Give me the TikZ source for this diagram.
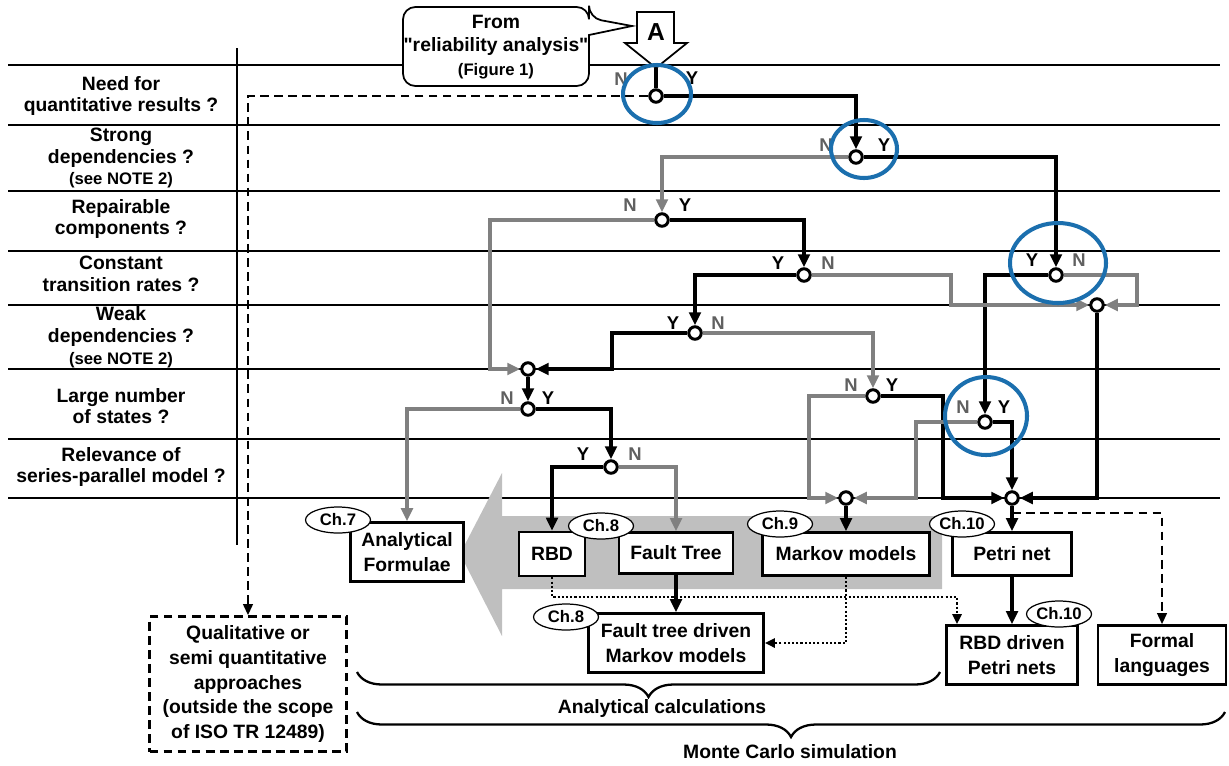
\documentclass[tikz,border=0pt]{standalone}
\usepackage{fontspec}
\setmainfont{Liberation Sans}[Ligatures=TeXOff]
\usetikzlibrary{arrows.meta, shapes.geometric, decorations.pathreplacing}
\definecolor{lgray}{HTML}{808080}
\definecolor{ngray}{HTML}{606060}
\definecolor{agray}{HTML}{BFBFBF}
\definecolor{hintblue}{HTML}{1B6FAE}
\tikzset{
  rowtxt/.style  = {align=center, font=\fontsize{11}{12.4}\selectfont\bfseries},
  model/.style   = {rectangle, draw, line width=1.5pt, fill=white, align=center,
                    inner sep=1pt, font=\fontsize{11}{13.8}\selectfont\bfseries},
  qbox/.style    = {model, dash pattern=on 5pt off 3pt},
  chap/.style    = {ellipse, draw, line width=0.7pt, fill=white, minimum width=1.3cm,
                    minimum height=0.52cm, inner sep=0pt, font=\fontsize{9.5}{10}\selectfont\bfseries},
  dec/.style     = {circle, draw, line width=1.7pt, fill=white, minimum size=0.25cm, inner sep=0pt},
  ylab/.style    = {font=\fontsize{10.5}{11}\selectfont\bfseries},
  nlab/.style    = {ylab, text=ngray},
  yln/.style     = {line width=2pt},
  yar/.style     = {yln, -{Triangle[length=2.6mm,width=2.3mm]}},
  nar/.style     = {yar, draw=lgray},
  dashar/.style  = {line width=1.3pt, dash pattern=on 5pt off 3pt, -{Triangle[length=2.2mm,width=1.9mm]}},
  dotar/.style   = {line width=1.4pt, dash pattern=on 1.2pt off 1.2pt, -{Triangle[length=2mm,width=1.8mm]}},
  rowline/.style = {line width=1pt},
  hint/.style    = {draw=hintblue, line width=2.3pt},
  bracel/.style  = {decorate, decoration={brace, mirror, amplitude=0.5cm}, line width=1.3pt},
}
\begin{document}
\begin{tikzpicture}[x=0.02cm, y=-0.02cm]
  \useasboundingbox (0,0) rectangle (1229,765);

  % question rows
  \foreach \y in {65,125,191,251,305,369,439,498}
    \draw[rowline] (8,\y) -- (1220,\y);
  \draw[rowline] (237,48) -- (237,545);

  \node[rowtxt] (rowQ) at (121,96) {Need for\\quantitative results ?};
  \node[rowtxt] (rowS) at (121,158) {Strong\\dependencies ?\\{\fontsize{9.5}{10}\selectfont (see NOTE 2)}};
  \node[rowtxt] (rowR) at (121,219) {Repairable\\components ?};
  \node[rowtxt] (rowC) at (121,274) {Constant\\transition rates ?};
  \node[rowtxt] (rowW) at (121,337) {Weak\\dependencies ?\\{\fontsize{9.5}{10}\selectfont (see NOTE 2)}};
  \node[rowtxt] (rowL) at (121,406) {Large number\\of states ?};
  \node[rowtxt] (rowP) at (121,467) {Relevance of\\series-parallel model ?};

  % entry from figure 1
  \draw[line width=1pt, fill=white, rounded corners=7pt] (403,7) -- (589,7) -- (589,18)
    [sharp corners] -- (632,26) -- (589,35) [rounded corners=7pt] -- (589,86) -- (403,86) -- cycle;
  \node[align=center, font=\fontsize{11}{13.3}\selectfont\bfseries] (from) at (496,47)
    {From\\"reliability analysis"\\{\fontsize{9.5}{10}\selectfont (Figure 1)}};
  \draw[line width=1pt, fill=white] (637,12) -- (674,12) -- (674,43) -- (687,43)
    -- (656,68) -- (625,43) -- (637,43) -- cycle;
  \node[font=\fontsize{14}{14}\selectfont\bfseries] (srcA) at (656,32) {A};
  \coordinate (aTip) at (656,68);

  % big grey arrow
  \fill[agray] (942,516) -- (502,516) -- (502,473) -- (460,554) -- (502,636) -- (502,589) -- (942,589) -- cycle;

  % methods
  \node[model, minimum width=2.26cm, minimum height=1.18cm] (afor) at (407,552) {Analytical\\Formulae};
  \node[model, minimum width=1.32cm, minimum height=0.88cm] (rbd) at (552,554) {RBD};
  \node[model, minimum width=2.28cm, minimum height=0.82cm] (ftree) at (676,553) {Fault Tree};
  \node[model, minimum width=3.5cm, minimum height=1.18cm] (ftdm) at (676,643) {Fault tree driven\\Markov models};
  \node[model, minimum width=3.34cm, minimum height=0.86cm] (markov) at (846,554) {Markov models};
  \node[model, minimum width=2.38cm, minimum height=0.86cm] (petri) at (1012,554) {Petri net};
  \node[model, minimum width=2.62cm, minimum height=1.18cm] (rbdpn) at (1012,655) {RBD driven\\Petri nets};
  \node[model, minimum width=2.56cm, minimum height=1.18cm] (formal) at (1162,655) {Formal\\languages};
  \node[qbox, minimum width=3.94cm, minimum height=2.7cm, font=\fontsize{11}{14}\selectfont\bfseries] (qual) at (248,684)
    {Qualitative or\\semi quantitative\\approaches\\(outside the scope\\of ISO TR 12489)};

  \node[chap] (ch7) at (338,520) {Ch.7};
  \node[chap] (ch8a) at (601,526) {Ch.8};
  \node[chap] (ch8b) at (566,617) {Ch.8};
  \node[chap] (ch9) at (780,524) {Ch.9};
  \node[chap] (ch10a) at (962,524) {Ch.10};
  \node[chap] (ch10b) at (1059,614) {Ch.10};

  % decisions
  \node[dec] (qnt) at (656,96) {};
  \node[dec] (strg) at (856,157) {};
  \node[dec] (rep) at (662,220) {};
  \node[dec] (ctrL) at (804,275) {};
  \node[dec] (ctrR) at (1056,275) {};
  \node[dec] (mrgC) at (1097,305) {};
  \node[dec] (weak) at (695,333) {};
  \node[dec] (mrgA) at (528,369) {};
  \node[dec] (lrgL) at (528,409) {};
  \node[dec] (lrgM) at (873,396) {};
  \node[dec] (lrgR) at (985,422) {};
  \node[dec] (rel) at (611,467) {};
  \node[dec] (mrgM) at (846,498) {};
  \node[dec] (mrgP) at (1012,498) {};

  \node[nlab] (qntN) at (621,79) {N};   \node[ylab] (qntY) at (692,78) {Y};
  \node[nlab] (strgN) at (826,145) {N}; \node[ylab] (strgY) at (884,145) {Y};
  \node[nlab] (repN) at (630,205) {N};  \node[ylab] (repY) at (685,205) {Y};
  \node[ylab] (ctrLY) at (778,263) {Y}; \node[nlab] (ctrLN) at (828,263) {N};
  \node[ylab] (ctrRY) at (1032,260) {Y};\node[nlab] (ctrRN) at (1079,260) {N};
  \node[ylab] (weakY) at (673,323) {Y}; \node[nlab] (weakN) at (718,323) {N};
  \node[nlab] (lrgLN) at (507,398) {N}; \node[ylab] (lrgLY) at (548,398) {Y};
  \node[nlab] (lrgMN) at (851,385) {N}; \node[ylab] (lrgMY) at (892,385) {Y};
  \node[nlab] (lrgRN) at (963,407) {N}; \node[ylab] (lrgRY) at (1004,407) {Y};
  \node[ylab] (relY) at (583,454) {Y};  \node[nlab] (relN) at (635,454) {N};

  \coordinate (bendRep) at (490,369);
  \coordinate (bendCl) at (951,275);
  \coordinate (bendCr) at (1137,275);
  \coordinate (bendW) at (612,333);
  \coordinate (bendMy) at (943,396);
  \coordinate (bendMn) at (809,396);
  \coordinate (bendRn) at (916,422);
  \coordinate (dashStart) at (1012,513);
  \coordinate (dotBend) at (957,597);

  % yes branches
  \draw[yln] (aTip) -- (qnt);
  \draw[yar] (qnt) -| (strg);
  \draw[yar] (strg) -| (ctrR);
  \draw[yar] (rep) -| (ctrL);
  \draw[yar] (ctrL) -| (weak);
  \draw[yar] (ctrR) -| (lrgR);
  \draw[yar] (mrgC) |- (mrgP);
  \draw[yar] (weak) -- (bendW) |- (mrgA);
  \draw[yar] (mrgA) -- (lrgL);
  \draw[yar] (lrgL) -| (rel);
  \draw[yar] (rel) -| (rbd);
  \draw[yar] (lrgM) -- (bendMy) |- (mrgP);
  \draw[yar] (lrgR) -| (mrgP);
  \draw[yar] (mrgM) -- (markov);
  \draw[yar] (mrgP) -- (petri);
  \draw[yar] (petri) -- (rbdpn);
  \draw[yar] (ftree) -- (ftdm);

  % no branches
  \draw[dashar] (qnt) -| (qual);
  \draw[nar] (strg) -| (rep);
  \draw[nar] (rep) -| (bendRep) -- (mrgA);
  \draw[nar] (ctrL) -- (bendCl) |- (mrgC);
  \draw[nar] (ctrR) -- (bendCr) |- (mrgC);
  \draw[nar] (weak) -| (lrgM);
  \draw[nar] (lrgL) -| (afor);
  \draw[nar] (rel) -| (ftree);
  \draw[nar] (lrgM) -- (bendMn) |- (mrgM);
  \draw[nar] (lrgR) -- (bendRn) |- (mrgM);

  % other links
  \draw[dashar] (dashStart) -| (formal);
  \draw[dotar] (rbd) |- (dotBend) -- (dotBend |- rbdpn.north);
  \draw[dotar] (markov) |- (ftdm);

  % calculation ranges
  \draw[bracel] (357,672) -- (940,672);
  \draw[bracel] (357,712) -- (1225,712);
  \node[rowtxt] (anc) at (662,708) {Analytical calculations};
  \node[rowtxt] (mcs) at (790,752) {Monte Carlo simulation};

  % highlighted decisions
  \draw[hint] (657,94) ellipse [x radius=34, y radius=29];
  \draw[hint] (864,149) ellipse [x radius=33, y radius=29];
  \draw[hint] (1058,263) ellipse [x radius=48, y radius=40];
  \draw[hint] (986,416) ellipse [x radius=41, y radius=39];
\end{tikzpicture}
\end{document}
